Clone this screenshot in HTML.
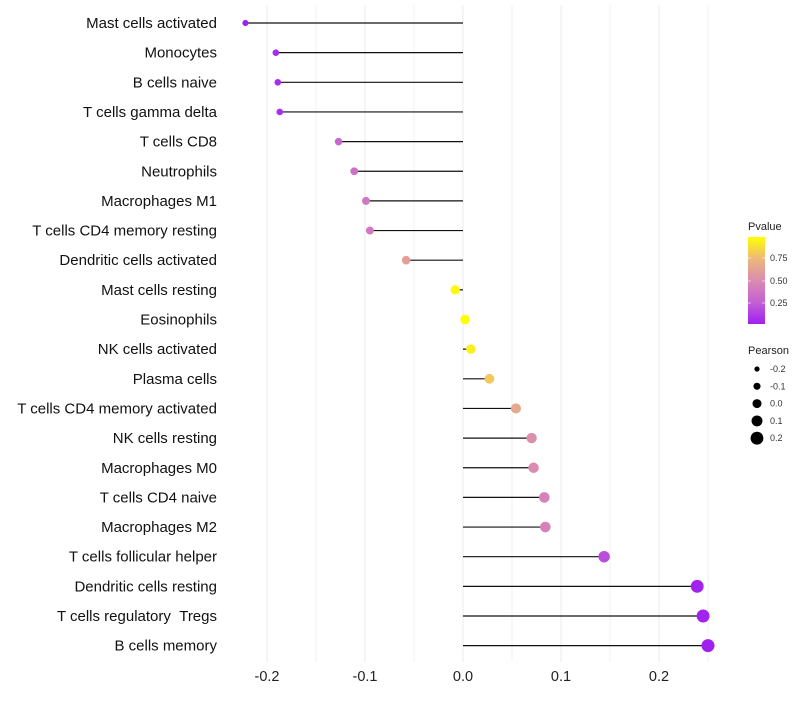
<!DOCTYPE html>
<html><head><meta charset="utf-8">
<style>
body{margin:0;background:#fff;font-family:"Liberation Sans",sans-serif;}
svg text{font-family:"Liberation Sans",sans-serif;}
</style></head>
<body>
<svg id="chart" width="800" height="700" viewBox="0 0 800 700" xmlns="http://www.w3.org/2000/svg">
<defs>
<linearGradient id="pgrad" x1="0" y1="1" x2="0" y2="0">
<stop offset="0" stop-color="#A020F0"/>
<stop offset="0.25" stop-color="#C460D4"/>
<stop offset="0.5" stop-color="#DA8CB0"/>
<stop offset="0.75" stop-color="#EDB87A"/>
<stop offset="1" stop-color="#FFFF00"/>
</linearGradient>
</defs>
<g id="grid"></g>
<g id="marks"></g>
<g id="ylabels"></g>
<g id="xlabels"></g>
<g id="legend-p">
<text x="748" y="230" font-size="11" fill="#222">Pvalue</text>
<rect x="748" y="237" width="17" height="87" fill="url(#pgrad)"/>
<line x1="748" y1="258" x2="751" y2="258" stroke="#fff" stroke-opacity="0.6"/>
<line x1="762" y1="258" x2="765" y2="258" stroke="#fff" stroke-opacity="0.6"/>
<line x1="748" y1="281" x2="751" y2="281" stroke="#fff" stroke-opacity="0.6"/>
<line x1="762" y1="281" x2="765" y2="281" stroke="#fff" stroke-opacity="0.6"/>
<line x1="748" y1="303" x2="751" y2="303" stroke="#fff" stroke-opacity="0.6"/>
<line x1="762" y1="303" x2="765" y2="303" stroke="#fff" stroke-opacity="0.6"/>
<text x="770" y="261" font-size="9" fill="#333">0.75</text>
<text x="770" y="284" font-size="9" fill="#333">0.50</text>
<text x="770" y="306" font-size="9" fill="#333">0.25</text>
</g>
<g id="legend-s">
<text x="748" y="354" font-size="11" fill="#222">Pearson</text>
</g>
</svg>
<script>
const categories = ["Mast cells activated","Monocytes","B cells naive","T cells gamma delta","T cells CD8","Neutrophils","Macrophages M1","T cells CD4 memory resting","Dendritic cells activated","Mast cells resting","Eosinophils","NK cells activated","Plasma cells","T cells CD4 memory activated","NK cells resting","Macrophages M0","T cells CD4 naive","Macrophages M2","T cells follicular helper","Dendritic cells resting","T cells regulatory\u00a0\u00a0Tregs","B cells memory"];
const pearson = [-0.222,-0.191,-0.189,-0.187,-0.127,-0.111,-0.099,-0.095,-0.058,-0.008,0.002,0.008,0.027,0.054,0.070,0.072,0.083,0.084,0.144,0.239,0.245,0.250];
const pvalues = [0.02,0.08,0.08,0.09,0.3,0.35,0.4,0.4,0.62,0.96,0.99,0.93,0.8,0.66,0.52,0.5,0.45,0.45,0.2,0.04,0.04,0.03];
const xTicks = [-0.2,-0.1,0,0.1,0.2];
const xTickLabels = ["-0.2","-0.1","0.0","0.1","0.2"];
const minorTicks = [-0.15,-0.05,0.05,0.15,0.25];
const sizeLegendVals = [-0.2,-0.1,0,0.1,0.2];
const sizeLegendLabels = ["-0.2","-0.1","0.0","0.1","0.2"];

const NS="http://www.w3.org/2000/svg";
const xs = v => 463 + v*980;
const ys = i => 23 + i*29.65;
const rs = v => Math.max(1.8, 3.3 + (v+0.19)*7.3);
function lerp(a,b,t){return Math.round(a+(b-a)*t);}
const stops=[[0,[160,32,240]],[0.25,[196,96,212]],[0.5,[218,140,176]],[0.75,[237,184,122]],[1,[255,255,0]]];
function col(p){
  let t=Math.max(0,Math.min(1,(p-0.03)/0.95));
  for(let k=0;k<stops.length-1;k++){
    if(t<=stops[k+1][0]){const a=stops[k],b=stops[k+1];const u=(t-a[0])/(b[0]-a[0]);
      return `rgb(${lerp(a[1][0],b[1][0],u)},${lerp(a[1][1],b[1][1],u)},${lerp(a[1][2],b[1][2],u)})`;}
  }
  return "rgb(255,255,0)";
}
function mk(tag,attrs,parent){const e=document.createElementNS(NS,tag);for(const k in attrs)e.setAttribute(k,attrs[k]);parent.appendChild(e);return e;}

const grid=document.getElementById('grid');
minorTicks.forEach(v=>{
  const l=mk('line',{x1:xs(v),x2:xs(v),y1:5,y2:662,stroke:'#f0f0f0','stroke-width':1},grid);
  
  
});
xTicks.forEach(v=>{
  const l=mk('line',{x1:xs(v),x2:xs(v),y1:5,y2:662,stroke:'#ebebeb','stroke-width':1},grid);
  
  
});
const xl=document.getElementById('xlabels');
xTicks.forEach((v,i)=>{
  const t=mk('text',{x:xs(v),y:681,'font-size':14.5,'text-anchor':'middle',fill:'#222'},xl);
  t.textContent=xTickLabels[i];
  
  
});
const marks=document.getElementById('marks');
const yl=document.getElementById('ylabels');
categories.forEach((c,i)=>{
  const y=ys(i);
  const seg=mk('line',{x1:xs(0),x2:xs(pearson[i]),y1:y,y2:y,stroke:'#111','stroke-width':1.2},marks);
  
  
  const c1=mk('circle',{cx:xs(pearson[i]),cy:y,r:rs(pearson[i]),fill:col(pvalues[i])},marks);
  
  
  const t=mk('text',{x:217,y:y+5,'font-size':15,'text-anchor':'end',fill:'#111'},yl);
  t.textContent=c;
  
  
});
const ls=document.getElementById('legend-s');
sizeLegendVals.forEach((v,i)=>{
  const y=369+i*17.3;
  const c=mk('circle',{cx:757,cy:y,r:2.6+(v+0.2)*9.5,fill:'#000'},ls);
  
  
  const t=mk('text',{x:770,y:y+3,'font-size':9,fill:'#333'},ls);
  t.textContent=sizeLegendLabels[i];
  
  
});
</script>
</body></html>
